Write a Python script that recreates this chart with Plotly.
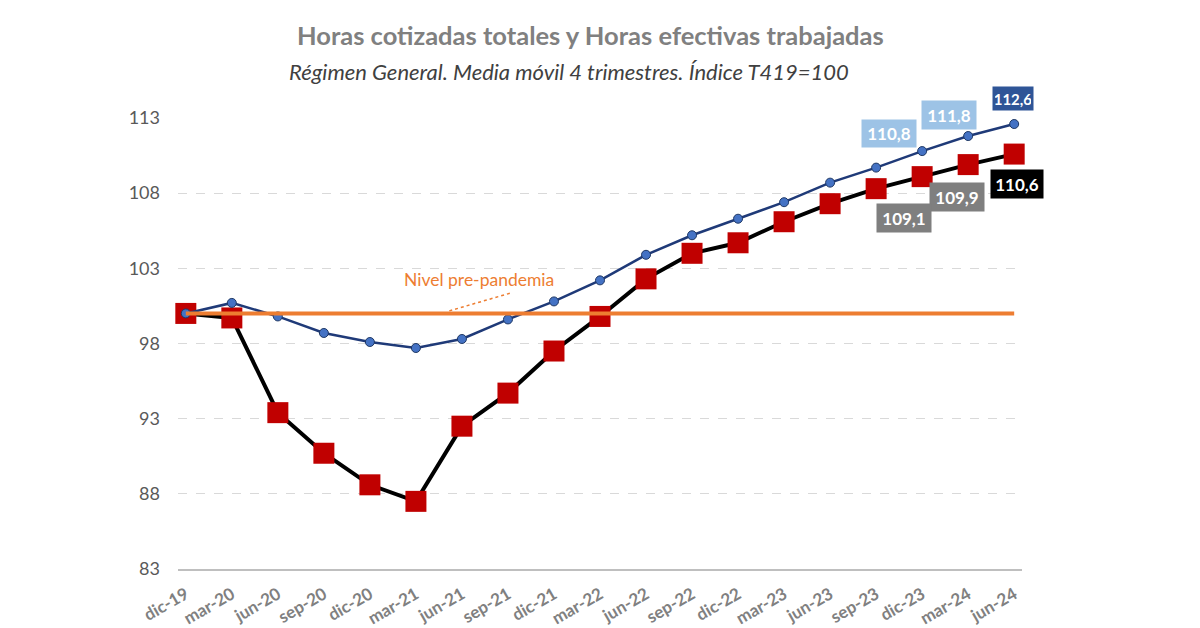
import plotly.graph_objects as go

categories = ["dic-19", "mar-20", "jun-20", "sep-20", "dic-20", "mar-21", "jun-21", "sep-21",
              "dic-21", "mar-22", "jun-22", "sep-22", "dic-22", "mar-23", "jun-23", "sep-23",
              "dic-23", "mar-24", "jun-24"]
horas_cotizadas = [100.0, 100.7, 99.8, 98.7, 98.1, 97.7, 98.3, 99.6, 100.8, 102.2, 103.9,
                   105.2, 106.3, 107.4, 108.7, 109.7, 110.8, 111.8, 112.6]
horas_efectivas = [100.0, 99.7, 93.4, 90.7, 88.6, 87.5, 92.5, 94.7, 97.5, 99.8, 102.3,
                   104.0, 104.7, 106.1, 107.3, 108.3, 109.1, 109.9, 110.6]
nivel_prepandemia = 100.0
y_ticks = [83, 88, 93, 98, 103, 108, 113]

FONT = "Lato"
Y0, Y1 = 83, 113
idx = list(range(len(categories)))

fig = go.Figure()

fig.add_trace(go.Scatter(
    x=idx, y=horas_efectivas, mode="lines+markers", name="Horas efectivas trabajadas",
    line=dict(color="#000000", width=4),
    marker=dict(symbol="square", size=21, color="#C00000", line=dict(width=0)),
    cliponaxis=False,
))
fig.add_trace(go.Scatter(
    x=idx, y=horas_cotizadas, mode="lines+markers", name="Horas cotizadas totales",
    line=dict(color="#1F3A78", width=2.5),
    marker=dict(symbol="circle", size=9, color="#4472C4", line=dict(color="#1F3864", width=1)),
    cliponaxis=False,
))
fig.add_trace(go.Scatter(
    x=[idx[0], idx[-1]], y=[nivel_prepandemia, nivel_prepandemia], mode="lines",
    name="Nivel pre-pandemia", line=dict(color="#ED7D31", width=4), cliponaxis=False,
))

def fmt(v):
    return f"{v:.1f}".replace(".", ",")

# (index, value, box colour, dx, dy, font size, box w, box h)
labels = [
    (18, horas_cotizadas[18], "#2F5597", -0.03, 1.7, 15, 36, 19),
    (17, horas_cotizadas[17], "#9DC3E6", -0.41, 1.4, 17, 50, 24),
    (16, horas_cotizadas[16], "#9DC3E6", -0.72, 1.2, 17, 50, 23),
    (18, horas_efectivas[18], "#000000", 0.07, -2.0, 17, 48, 24),
    (17, horas_efectivas[17], "#7F7F7F", -0.25, -2.15, 17, 50, 24),
    (16, horas_efectivas[16], "#7F7F7F", -0.40, -2.75, 17, 50, 24),
]
for i, v, col, dx, dy, fs, w, h in labels:
    fig.add_annotation(x=i + dx, y=(v + dy - Y0) / (Y1 - Y0), xref="x", yref="paper",
                       xanchor="center", yanchor="middle",
                       text=f"<b>{fmt(v)}</b>", showarrow=False,
                       bgcolor=col, font=dict(family=FONT, size=fs, color="white"),
                       width=w, height=h, borderpad=2)

fig.add_annotation(x=6.36, y=102.26, text="Nivel pre-pandemia", showarrow=False,
                   xanchor="center", yanchor="middle",
                   font=dict(family=FONT, size=17.5, color="#ED7D31"))
fig.add_shape(type="line", x0=7.04, y0=101.34, x1=5.67, y1=100.12,
              line=dict(color="#ED7D31", width=1.5, dash="dot"))

# page body adds an 8px offset; margins compensate so the plot area lands at 178..1022 x 118..569
OFF = 8
L, R, T, B = 178 - OFF, 178 + OFF, 118 - OFF, 59 + OFF
PW, PH = 1200 - L - R, 628 - T - B
def px(x):
    return (x - OFF - L) / PW
def py(y):
    return (628 - B - (y - OFF)) / PH

fig.add_annotation(x=px(590), y=py(35), xref="paper", yref="paper",
                   xanchor="center", yanchor="middle",
                   text="<b>Horas cotizadas totales y Horas efectivas trabajadas</b>",
                   showarrow=False, font=dict(family=FONT, size=25.5, color="#808080"))
fig.add_annotation(x=px(569), y=py(72), xref="paper", yref="paper",
                   xanchor="center", yanchor="middle",
                   text="<i>Régimen General. Media móvil 4 trimestres. Índice T419=100</i>",
                   showarrow=False, font=dict(family=FONT, size=22, color="#404040"))

fig.update_layout(
    width=1200, height=628,
    margin=dict(l=L, r=R, t=T, b=B),
    paper_bgcolor="white", plot_bgcolor="white",
    showlegend=False,
    xaxis=dict(
        tickmode="array", tickvals=idx, ticktext=[f"<b>{c}</b>" for c in categories],
        range=[-0.17, 18.17], tickangle=-30, showgrid=False, zeroline=False,
        showline=True, linecolor="#BFBFBF", linewidth=2, automargin=False,
        ticks="outside", ticklen=7, tickcolor="rgba(0,0,0,0)",
        tickfont=dict(family=FONT, size=17, color="#808080"),
    ),
    yaxis=dict(
        range=[Y0, Y1], tickmode="array", tickvals=y_ticks,
        showgrid=True, gridcolor="#D9D9D9", griddash="dash", gridwidth=1,
        zeroline=False, showline=False, ticks="", ticklabelstandoff=17, automargin=False,
        tickfont=dict(family=FONT, size=18, color="#595959"),
    ),
)

fig.write_html("out.html")
